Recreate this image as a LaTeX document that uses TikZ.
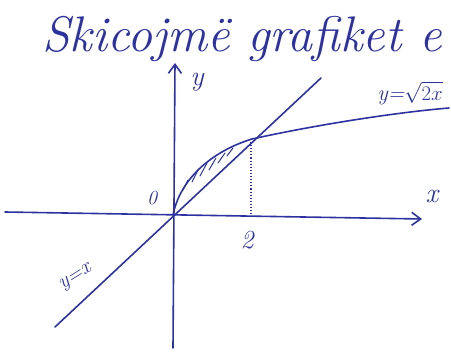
\documentclass[tikz,border=0pt]{standalone}
\usetikzlibrary{arrows.meta}
\definecolor{ink}{RGB}{45,50,160}
\begin{document}
\begin{tikzpicture}[x=1pt,y=-1pt,
  pen/.style={draw=ink,line width=1.6pt,line cap=round,line join=round},
  hand/.style={text=ink,font=\itshape},
  tip/.style={-{Straight Barb[length=9pt,width=13pt,line width=1.6pt]}}]
\useasboundingbox (0,0) rectangle (451,355);
\clip (0,0) rectangle (451,355);
% title
\node[hand,anchor=base west,inner sep=0pt,font=\fontsize{50}{60}\selectfont\itshape] (title) at (42,52) {Skicojmë grafiket e};
% axes
\coordinate (xs) at (5,212);
\coordinate (xe) at (422,219);
\coordinate (ys) at (173,348);
\coordinate (ye) at (175,63);
\draw[pen,tip] (xs) -- (xe);
\draw[pen,tip] (ys) -- (ye);
% line y=x
\coordinate (ls) at (55,327);
\coordinate (le) at (321,78);
\draw[pen] (ls) -- (le);
% curve y=sqrt(2x)
\coordinate (O) at (173,215);
\coordinate (P) at (252,139);
\draw[pen] (O) .. controls (180,180) and (210,152) .. (P)
  .. controls (320,124) and (400,112) .. (449,108);
% hatching
\foreach \a/\b in {{183,190}/{188,180},{192,182}/{198,170},{200,176}/{207,163},{209,170}/{216,158},{218,163}/{225,153},{227,156}/{233,148}}{
  \draw[draw=ink,line width=1pt,line cap=round] (\a) -- (\b);
}
% dotted
\coordinate (d1) at (251,142);
\coordinate (d2) at (251,214);
\draw[draw=ink,line width=1.1pt,dotted] (d1) -- (d2);
% labels
\node[hand,inner sep=1pt,font=\fontsize{28}{30}\selectfont\itshape] (ly) at (197,82) {y};
\node[hand,inner sep=1pt,font=\fontsize{28}{30}\selectfont\itshape] (lx) at (432,196) {x};
\node[hand,inner sep=1pt,font=\fontsize{20}{24}\selectfont\itshape] (l0) at (152,198) {0};
\node[hand,inner sep=1pt,font=\fontsize{26}{28}\selectfont\itshape] (l2) at (247,240) {2};
\node[hand,inner sep=1pt,font=\fontsize{21}{24}\selectfont\itshape,rotate=32] (lyx) at (76,278) {y=x};
\node[hand,inner sep=1pt,font=\fontsize{22}{24}\selectfont\itshape] (lsq) at (410,93) {y=$\sqrt{2x}$};
\end{tikzpicture}
\end{document}
